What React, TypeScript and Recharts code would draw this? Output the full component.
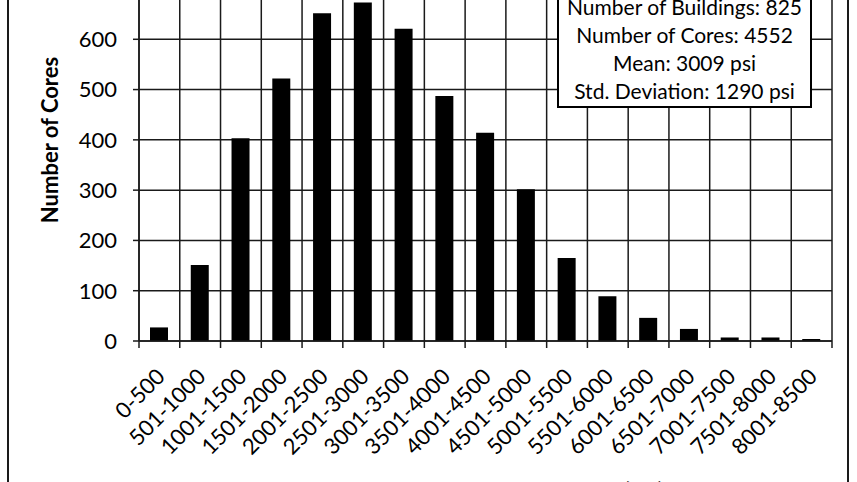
import { BarChart, Bar, XAxis, YAxis, CartesianGrid, Label } from 'recharts';

// strength ranges (psi) and number of cores in each
const RANGES = [
  '0-500', '501-1000', '1001-1500', '1501-2000', '2001-2500', '2501-3000',
  '3001-3500', '3501-4000', '4001-4500', '4501-5000', '5001-5500', '5501-6000',
  '6001-6500', '6501-7000', '7001-7500', '7501-8000', '8001-8500',
];
const CORE_COUNTS = [27, 151, 403, 522, 652, 673, 621, 487, 414, 302, 165, 89, 46, 24, 7, 7, 4];
const Y_TICKS = [0, 100, 200, 300, 400, 500, 600, 700];
const STATS = [
  'Number of Buildings: 825',
  'Number of Cores: 4552',
  'Mean: 3009 psi',
  'Std. Deviation: 1290 psi',
];

const data = RANGES.map((range, i) => ({ range, cores: CORE_COUNTS[i] }));

const INK = '#1a1a1a';
const CHART_W = 857;
const CHART_H = 580;
const MARGIN = { top: 29, right: 25, bottom: 39, left: 59 };
const Y_AXIS_W = 80;
const PLOT_W = CHART_W - MARGIN.left - MARGIN.right - Y_AXIS_W;
const STEP = PLOT_W / RANGES.length;

// label rotated -45deg plus a tick mark on the left edge of each category
const RangeTick = (props: any) => {
  const { x, y, payload, index } = props;
  const half = STEP / 2;
  const ax = x + 7;
  const ay = y + 37;
  return (
    <g>
      <line x1={x - half} x2={x - half} y1={y} y2={y + 7} stroke={INK} strokeWidth={1.5} />
      {index === RANGES.length - 1 && (
        <line x1={x + half} x2={x + half} y1={y} y2={y + 7} stroke={INK} strokeWidth={1.5} />
      )}
      <text
        x={ax}
        y={ay}
        transform={`rotate(-45, ${ax}, ${ay})`}
        textAnchor="end"
        fontSize={22}
        fill="#000"
      >
        {payload.value}
      </text>
    </g>
  );
};

const YTitle = (props: any) => {
  const { viewBox } = props;
  const x = viewBox.x - 1;
  const y = viewBox.y + viewBox.height / 2 - 25;
  return (
    <text
      x={x}
      y={y}
      transform={`rotate(-90, ${x}, ${y})`}
      textAnchor="middle"
      fontSize={22}
      fontWeight="bold"
      fill="#000"
    >
      Number of Cores
    </text>
  );
};

// x title sits low in the frame, mostly below the visible area
const XTitle = (props: any) => {
  const { viewBox } = props;
  return (
    <text
      x={viewBox.x + viewBox.width / 2 + 48}
      y={viewBox.y + viewBox.height - 2}
      textAnchor="middle"
      fontSize={22}
      fontWeight="bold"
      fill="#000"
    >
      Compressive Strength (psi)
    </text>
  );
};

export default function App() {
  const gridX = ({ offset }: any) => {
    const left = offset?.left ?? MARGIN.left + Y_AXIS_W;
    const width = offset?.width ?? PLOT_W;
    return Array.from({ length: RANGES.length + 1 }, (_, i) => left + (i * width) / RANGES.length);
  };

  return (
    <div
      style={{
        position: 'absolute', left: 0, top: 0, width: 857, height: 482,
        overflow: 'hidden', background: '#fff', fontFamily: 'Lato, sans-serif',
      }}
    >
      {/* chart area frame */}
      <div
        style={{
          position: 'absolute', left: 7, top: -40, width: 842, height: 560,
          border: `2px solid ${INK}`, boxSizing: 'border-box',
        }}
      />
      <div style={{ position: 'absolute', left: 0, top: -40 }}>
        <BarChart width={CHART_W} height={CHART_H} data={data} margin={MARGIN}>
          <CartesianGrid
            stroke={INK}
            strokeWidth={1.5}
            verticalCoordinatesGenerator={gridX}
          />
          <XAxis
            dataKey="range"
            interval={0}
            height={160}
            tickSize={0}
            tickMargin={0}
            tickLine={false}
            axisLine={{ stroke: INK, strokeWidth: 1.5 }}
            tick={<RangeTick />}
          >
            <Label content={<XTitle />} />
          </XAxis>
          <YAxis
            width={Y_AXIS_W}
            domain={[0, 700]}
            ticks={Y_TICKS}
            interval={0}
            tickSize={6}
            tickMargin={16}
            tickLine={{ stroke: INK, strokeWidth: 1.5 }}
            axisLine={{ stroke: INK, strokeWidth: 1.5 }}
            tick={{ fontSize: 22, fill: '#000' }}
          >
            <Label content={<YTitle />} />
          </YAxis>
          <Bar dataKey="cores" fill="#000" barSize={18} isAnimationActive={false} />
        </BarChart>
      </div>
      {/* statistics box */}
      <div
        style={{
          position: 'absolute', left: 557, top: -12, width: 255, height: 120,
          boxSizing: 'border-box', border: '2px solid #000', background: '#fff',
          paddingTop: 3, textAlign: 'center', fontSize: 21, lineHeight: '28px', color: '#000',
        }}
      >
        {STATS.map((s) => (
          <div key={s}>{s}</div>
        ))}
      </div>
    </div>
  );
}
